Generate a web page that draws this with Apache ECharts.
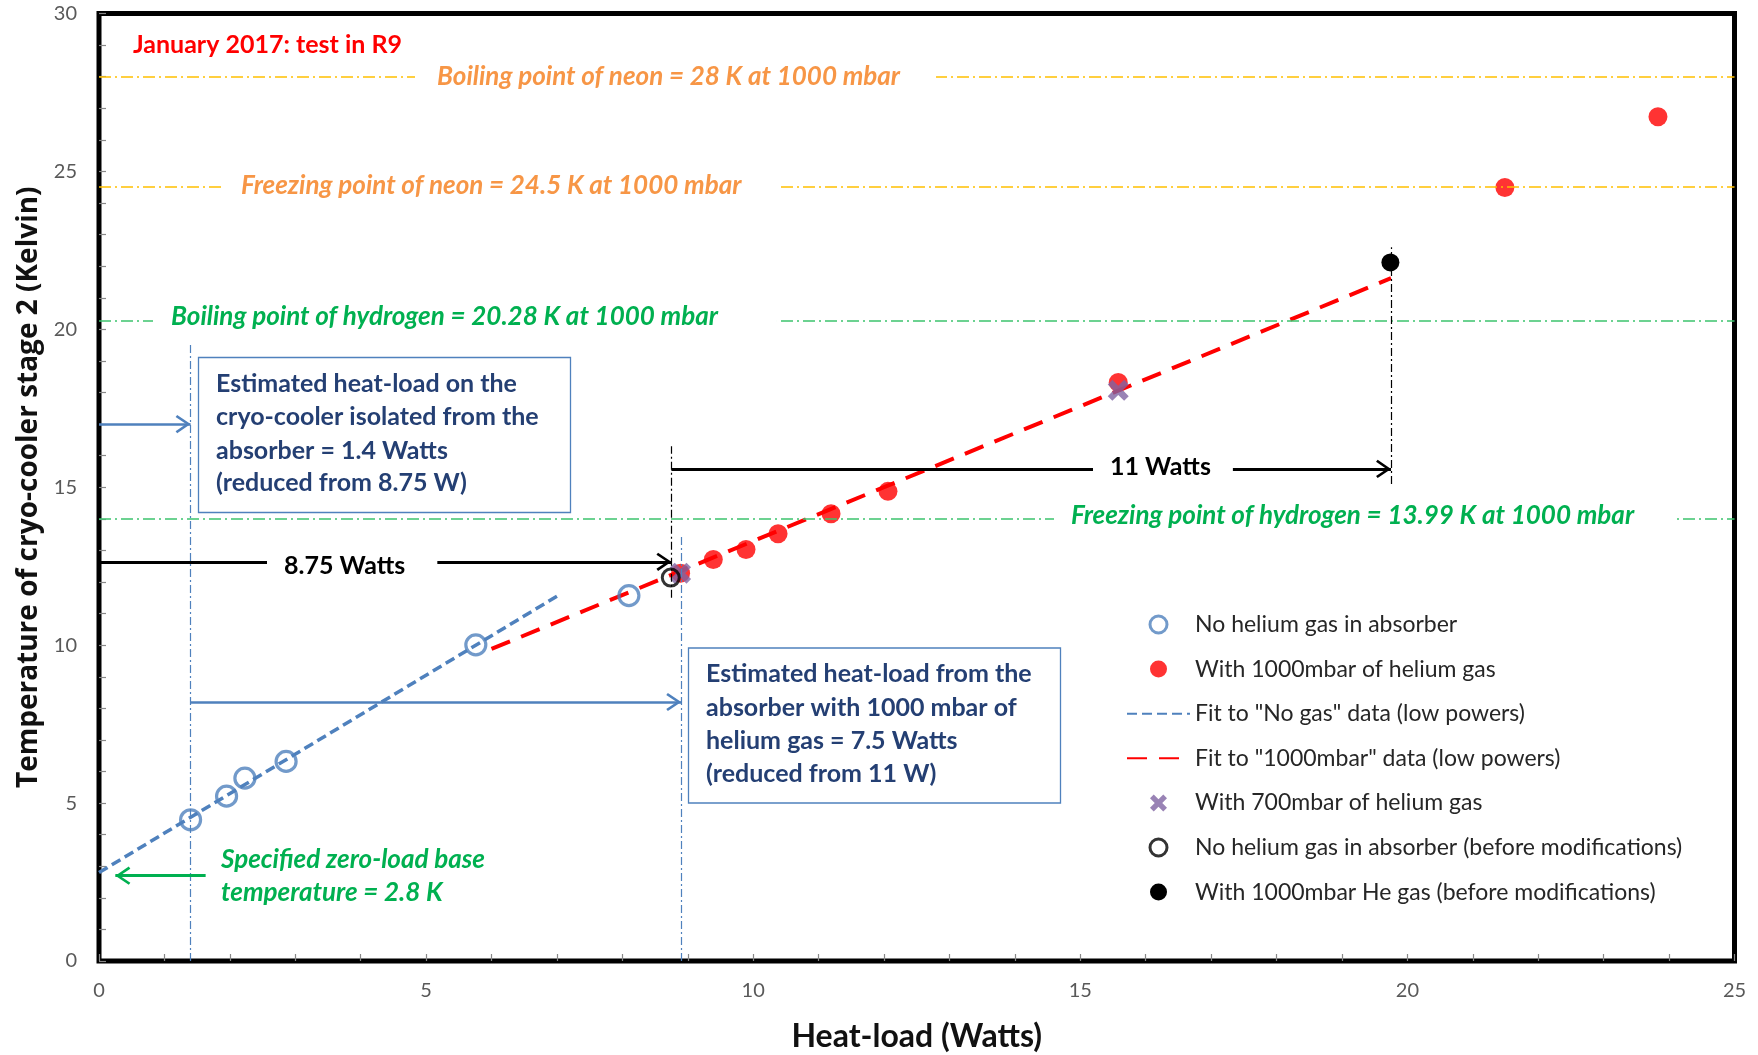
<!DOCTYPE html>
<html><head><meta charset="utf-8">
<script src="https://cdn.jsdelivr.net/npm/echarts@6/dist/echarts.min.js"></script>
<style>html,body{margin:0;padding:0;background:#fff}#c{width:1758px;height:1055px}</style>
</head><body><div id="c"></div>
<script>
// ---- data (heat-load in Watts, temperature in Kelvin) ----
const noGasX = [1.40, 1.95, 2.23, 2.86, 5.76, 8.10];
const noGasY = [4.47, 5.22, 5.79, 6.32, 10.01, 11.57];
const he1000X = [8.89, 9.39, 9.89, 10.38, 11.19, 12.06, 15.58, 21.49, 23.83];
const he1000Y = [12.28, 12.71, 13.03, 13.53, 14.16, 14.87, 18.32, 24.49, 26.73];
const he700X = [8.89, 15.58];
const he700Y = [12.28, 18.07];
const oldNoGasX = [8.74];
const oldNoGasY = [12.14];
const oldHeX = [19.74];
const oldHeY = [22.12];
const fitNoGasX = [0, 7.0];
const fitNoGasY = [2.8, 11.55];
const fitHeX = [6.0, 19.75];
const fitHeY = [9.88, 21.62];
// reference temperatures: neon boiling, neon freezing, hydrogen boiling, hydrogen freezing
const refTemps = [28, 24.5, 20.28, 13.99];
// annotation values
const isolatedLoad = 1.4;      // W
const absorberLoad = 8.9;      // W (1.4 + 7.5)
const oldIsolated = 8.75;      // W
const oldTotal = 19.75;        // W (8.75 + 11)
const baseTemp = 2.7;
const seriesNames = [
  'No helium gas in absorber',
  'With 1000mbar of helium gas',
  'Fit to "No gas" data (low powers)',
  'Fit to "1000mbar" data (low powers)',
  'With 700mbar of helium gas',
  'No helium gas in absorber (before modifications)',
  'With 1000mbar He gas (before modifications)'
];

const zip = (a, b) => a.map((v, i) => [v, b[i]]);
const crossPath = 'path://M0,2.2 L2.2,0 L5,2.8 L7.8,0 L10,2.2 L7.2,5 L10,7.8 L7.8,10 L5,7.2 L2.2,10 L0,7.8 L2.8,5 Z';
const chevron = 'path://M0,-14 L0.01,-14 L0,-13.99 Z M28,-14 L27.99,-14 L28,-13.99 Z M14,0 L22.5,12.5 L20.6,14 L14,4.2 L7.4,14 L5.5,12.5 Z';

const BLUE = '#4F81BD', RED = '#FF0000', GOLD = '#FFC000', GREEN_L = '#3CC46E', GREEN = '#00B050', ORANGE = '#F79646', NAVY = '#243F73';
const dashDot = [12, 4, 2, 4];

function hLine(y, x0, x1, color, type, width) {
  return [{coord: [x0, y], lineStyle: {color, type, width}}, {coord: [x1, y]}];
}
function vLine(x, y0, y1, color, type, width) {
  return [{coord: [x, y0], lineStyle: {color, type, width}}, {coord: [x, y1]}];
}
function arrow(y, x0, x1, color, width) {
  return [{coord: [x0, y], symbol: 'none', lineStyle: {color, type: 'solid', width}},
          {coord: [x1, y], symbol: chevron, symbolSize: 30}];
}

const markLines = [
  hLine(refTemps[0], 0, 25, GOLD, dashDot, 1.5),
  hLine(refTemps[1], 0, 25, GOLD, dashDot, 1.5),
  hLine(refTemps[2], 0, 25, GREEN_L, dashDot, 1.5),
  hLine(refTemps[3], 0, 25, GREEN_L, dashDot, 1.5),
  vLine(isolatedLoad, 0, 19.6, BLUE, [8, 3, 2, 3], 1.2),
  vLine(absorberLoad, 0, 13.45, BLUE, [8, 3, 2, 3], 1.2),
  vLine(oldIsolated, 11.5, 16.3, '#000', [8, 3, 2, 3], 1.2),
  vLine(oldTotal, 15.1, 22.6, '#000', [8, 3, 2, 3], 1.2),
  arrow(12.64, 0, oldIsolated, '#000', 3),
  arrow(15.58, oldIsolated, oldTotal, '#000', 3),
  arrow(17.0, 0, isolatedLoad, BLUE, 2.5),
  arrow(8.2, isolatedLoad, absorberLoad, BLUE, 2.5),
  arrow(baseTemp, 1.63, 0.25, GREEN, 3)
];

const LATO = 'Lato, "Open Sans", sans-serif';
function txt(x, y, text, font, fill, pad) {
  const st = {text, font, fill, align: 'left', verticalAlign: 'middle'};
  if (pad) { st.backgroundColor = '#fff'; st.padding = [2, pad[1], 2, pad[0]]; }
  return {type: 'text', x: x - (pad ? pad[0] : 0), y, z: 100, style: st};
}
const BI = 'italic bold 26px ' + LATO;
const BOX = 'bold 25px ' + LATO;
const graphics = [
  txt(133, 45, 'January 2017: test in R9', 'bold 25px ' + LATO, RED),
  txt(437, 77, 'Boiling point of neon = 28 K at 1000 mbar', BI, ORANGE, [22, 36]),
  txt(241, 186, 'Freezing point of neon = 24.5 K at 1000 mbar', BI, ORANGE, [17, 37]),
  txt(171, 317, 'Boiling point of hydrogen = 20.28 K at 1000 mbar', BI, GREEN, [18, 59]),
  txt(1071, 516, 'Freezing point of hydrogen = 13.99 K at 1000 mbar', BI, GREEN, [17, 39]),
  txt(221, 860, 'Specified zero-load base', BI, GREEN),
  txt(221, 893, 'temperature = 2.8 K', BI, GREEN),
  txt(284, 566, '8.75 Watts', 'bold 25px ' + LATO, '#000', [17, 32]),
  txt(1110, 467, '11 Watts', 'bold 25px ' + LATO, '#000', [17, 22]),
  {type: 'rect', z: 90, shape: {x: 198.5, y: 357.5, width: 372, height: 155}, style: {fill: '#fff', stroke: BLUE, lineWidth: 1.3}},
  txt(216, 383.5, 'Estimated heat-load on the', BOX, NAVY),
  txt(216, 417, 'cryo-cooler isolated from the', BOX, NAVY),
  txt(216, 450.5, 'absorber = 1.4 Watts', BOX, NAVY),
  txt(216, 483, '(reduced from 8.75 W)', BOX, NAVY),
  {type: 'rect', z: 90, shape: {x: 688.5, y: 648, width: 372, height: 155}, style: {fill: '#fff', stroke: BLUE, lineWidth: 1.3}},
  txt(706, 674, 'Estimated heat-load from the', BOX, NAVY),
  txt(706, 707.5, 'absorber with 1000 mbar of', BOX, NAVY),
  txt(706, 740.5, 'helium gas = 7.5 Watts', BOX, NAVY),
  txt(706, 774, '(reduced from 11 W)', BOX, NAVY)
];

const chart = echarts.init(document.getElementById('c'), null, {renderer: 'canvas'});
const axisCommon = {
  axisLine: {show: true, onZero: false, lineStyle: {color: '#000', width: 4}},
  axisTick: {show: true, inside: true, length: 7, lineStyle: {color: '#888', width: 1.2}},
  minorTick: {show: true, splitNumber: 5, length: 7, lineStyle: {color: '#888', width: 1.2}},
  splitLine: {show: false},
  axisLabel: {color: '#595959', fontSize: 20, fontFamily: LATO, margin: 20}
};
const hideSym = {color: 'rgba(0,0,0,0)', borderColor: 'rgba(0,0,0,0)', borderWidth: 0};
chart.setOption({
  animation: false,
  backgroundColor: '#fff',
  grid: {left: 99, right: 23.5, top: 13.5, bottom: 94, show: true, borderColor: '#000', borderWidth: 5, containLabel: false, outerBoundsMode: 'none'},
  xAxis: Object.assign({}, axisCommon, {
    type: 'value', min: 0, max: 25, interval: 5,
    name: 'Heat-load (Watts)', nameLocation: 'middle', nameGap: 60,
    nameTextStyle: {fontFamily: LATO, fontWeight: 'bold', fontSize: 32, color: '#111'}
  }),
  yAxis: Object.assign({}, axisCommon, {
    type: 'value', min: 0, max: 30, interval: 5,
    axisLabel: Object.assign({}, axisCommon.axisLabel, {margin: 22}),
    name: 'Temperature of cryo-cooler stage 2 (Kelvin)', nameLocation: 'middle', nameGap: 56,
    nameTextStyle: {fontFamily: '"Open Sans", sans-serif', fontWeight: 'bold', fontSize: 28, color: '#111'}
  }),
  legend: {
    orient: 'vertical', left: 1126, top: 613, padding: 0,
    itemWidth: 63, itemHeight: 17, itemGap: 21.6,
    textStyle: {fontFamily: LATO, fontSize: 23, color: '#262626', lineHeight: 23},
    data: [
      {name: seriesNames[0], itemStyle: {borderWidth: 3}},
      {name: seriesNames[1]},
      {name: seriesNames[2], itemStyle: hideSym},
      {name: seriesNames[3], itemStyle: hideSym},
      {name: seriesNames[4]},
      {name: seriesNames[5], itemStyle: {borderWidth: 3}},
      {name: seriesNames[6]}
    ]
  },
  series: [
    {name: 'annotations', type: 'line', data: [], silent: true, z: 1,
     markLine: {silent: true, symbol: ['none', 'none'], label: {show: false}, emphasis: {disabled: true}, animation: false, data: markLines}},
    {name: seriesNames[2], type: 'line', z: 2, symbol: 'none', data: zip(fitNoGasX, fitNoGasY),
     lineStyle: {color: BLUE, width: 3.5, type: [10, 5]}, itemStyle: {color: BLUE}},
    {name: seriesNames[3], type: 'line', z: 2, symbol: 'none', data: zip(fitHeX, fitHeY),
     lineStyle: {color: RED, width: 4, type: [20, 12]}, itemStyle: {color: RED}},
    {name: seriesNames[0], type: 'scatter', z: 3, symbol: 'circle', symbolSize: 20, data: zip(noGasX, noGasY),
     itemStyle: {color: 'rgba(255,255,255,0)', borderColor: BLUE, borderWidth: 3.2}},
    {name: seriesNames[1], type: 'scatter', z: 3, symbol: 'circle', symbolSize: 19, data: zip(he1000X, he1000Y),
     itemStyle: {color: RED}},
    {name: seriesNames[4], type: 'scatter', z: 4, symbol: crossPath, symbolSize: 21, data: zip(he700X, he700Y),
     itemStyle: {color: '#8064A2'}},
    {name: seriesNames[5], type: 'scatter', z: 4, symbol: 'circle', symbolSize: 17, data: zip(oldNoGasX, oldNoGasY),
     itemStyle: {color: 'rgba(255,255,255,0)', borderColor: '#000', borderWidth: 3}},
    {name: seriesNames[6], type: 'scatter', z: 4, symbol: 'circle', symbolSize: 18, data: zip(oldHeX, oldHeY),
     itemStyle: {color: '#000', opacity: 1}}
  ],
  graphic: graphics
});
</script></body></html>
